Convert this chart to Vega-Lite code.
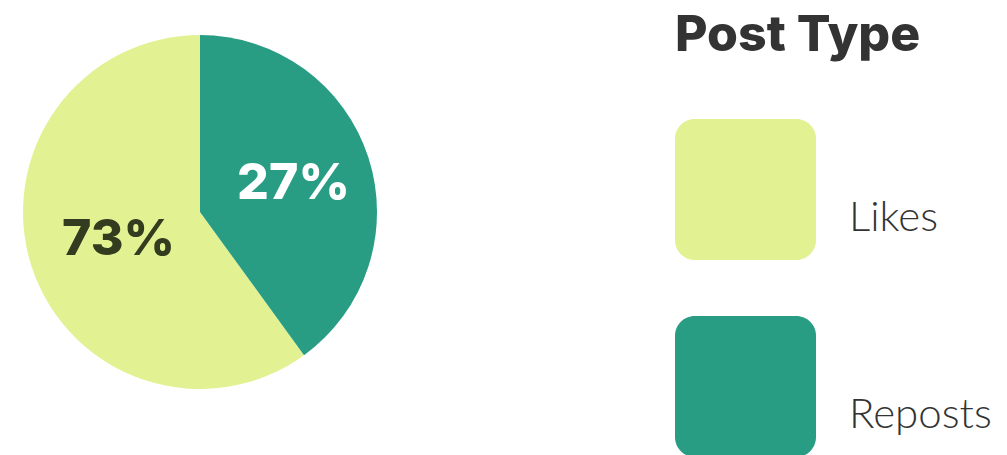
{
  "$schema": "https://vega.github.io/schema/vega-lite/v6.json",
  "width": 400,
  "height": 424,
  "autosize": "none",
  "padding": {"left": 0, "top": 0, "right": 607, "bottom": 31},
  "background": "white",
  "data": {"values": [
    {"type": "Likes", "value": 60, "label": "73%"},
    {"type": "Reposts", "value": 40, "label": "27%"}
  ]},
  "encoding": {
    "theta": {"field": "value", "type": "quantitative", "stack": true},
    "order": {"field": "type", "sort": "descending"}
  },
  "layer": [
    {
      "mark": {"type": "arc", "outerRadius": 177},
      "encoding": {
        "color": {
          "field": "type",
          "type": "nominal",
          "scale": {"domain": ["Likes", "Reposts"], "range": ["#e2f293", "#289d84"]},
          "legend": {
            "title": "Post Type",
            "orient": "none",
            "legendX": 675,
            "legendY": 11,
            "titleFont": "Inter",
            "titleFontSize": 50,
            "titleFontWeight": 800,
            "titleColor": "#333333",
            "titlePadding": 58,
            "titleBaseline": "top",
            "titleLimit": 400,
            "symbolType": "M-0.72,-1H0.72A0.28,0.28 0 0 1 1,-0.72V0.72A0.28,0.28 0 0 1 0.72,1H-0.72A0.28,0.28 0 0 1 -1,0.72V-0.72A0.28,0.28 0 0 1 -0.72,-1Z",
            "symbolSize": 19881,
            "symbolStrokeWidth": 0,
            "symbolOpacity": 1,
            "rowPadding": 56,
            "labelFont": "Lato",
            "labelFontSize": 42,
            "labelFontWeight": 300,
            "labelColor": "#333333",
            "labelOffset": 33,
            "labelBaseline": "top",
            "labelLimit": 300,
            "encode": {"labels": {"update": {"dy": {"value": 8}}}}
          }
        }
      }
    },
    {
      "mark": {"type": "text", "radius": 92, "dx": 6, "font": "Inter", "fontSize": 50, "fontWeight": 800, "align": "center", "baseline": "middle"},
      "encoding": {
        "text": {"field": "label"},
        "color": {
          "field": "type",
          "type": "nominal",
          "scale": {"domain": ["Likes", "Reposts"], "range": ["#333c1e", "#ffffff"]},
          "legend": null
        }
      }
    }
  ],
  "resolve": {"scale": {"color": "independent"}}
}
